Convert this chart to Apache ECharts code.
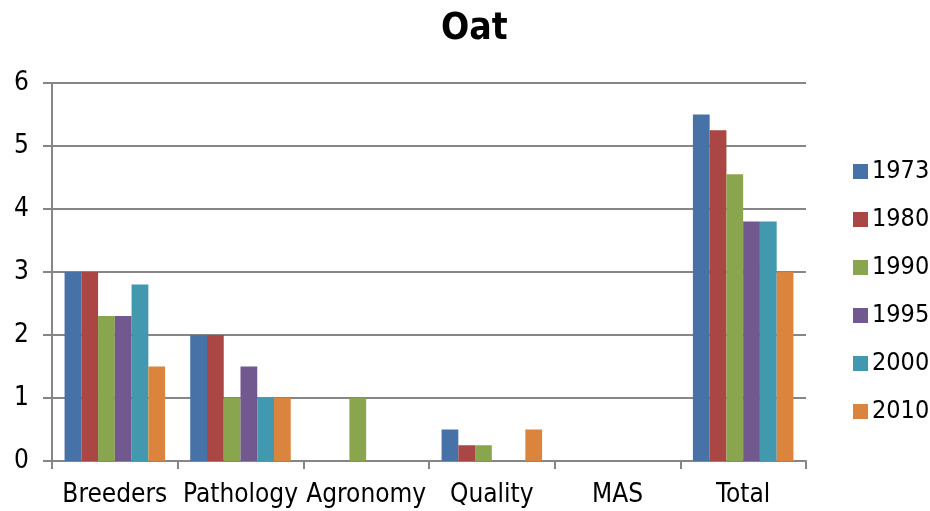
<!DOCTYPE html>
<html>
<head>
<meta charset="utf-8">
<script src="https://cdn.jsdelivr.net/npm/echarts@6/dist/echarts.min.js"></script>
<style>
  html, body { margin: 0; padding: 0; background: #fff; }
  #chart { width: 930px; height: 511px; }
</style>
</head>
<body>
<div id="chart"></div>
<script>
var categories = ['Breeders', 'Pathology', 'Agronomy', 'Quality', 'MAS', 'Total'];
var years = ['1973', '1980', '1990', '1995', '2000', '2010'];
var v1973 = [3, 2, 0, 0.5, 0, 5.5];
var v1980 = [3, 2, 0, 0.25, 0, 5.25];
var v1990 = [2.3, 1, 1, 0.25, 0, 4.55];
var v1995 = [2.3, 1.5, 0, 0, 0, 3.8];
var v2000 = [2.8, 1, 0, 0, 0, 3.8];
var v2010 = [1.5, 1, 0, 0.5, 0, 3];
var values = [v1973, v1980, v1990, v1995, v2000, v2010];
var colors = ['#4672A7', '#AA4643', '#89A54E', '#71588F', '#4198AF', '#DB843D'];

var font = '"DejaVu Sans Condensed", Tahoma, "DejaVu Sans", sans-serif';
var dom = document.getElementById('chart');
var myChart = echarts.init(dom);

var series = [];
for (var i = 0; i < years.length; i++) {
    series.push({
        name: years[i],
        type: 'bar',
        barGap: '0%',
        barCategoryGap: '20%',
        data: values[i]
    });
}

var option = {
    animation: false,
    color: colors,
    title: {
        text: 'Oat',
        left: 436,
        top: 6,
        textStyle: { fontFamily: font, fontSize: 37, fontWeight: 'bold', color: '#000' }
    },
    legend: {
        orient: 'vertical',
        left: 848,
        top: 153,
        itemWidth: 15,
        itemHeight: 15,
        itemGap: 21,
        icon: 'rect',
        textStyle: { fontFamily: font, fontSize: 25, lineHeight: 27, color: '#000', padding: [0, 0, 0, -1] },
        data: years
    },
    grid: { left: 52, right: 124, top: 83, bottom: 50 },
    xAxis: {
        type: 'category',
        data: categories,
        axisLine: { lineStyle: { color: '#868686', width: 2 } },
        axisTick: { show: true, interval: 0, length: 8, lineStyle: { color: '#868686', width: 2 } },
        axisLabel: { interval: 0, fontFamily: font, fontSize: 26, color: '#000', margin: 21 }
    },
    yAxis: {
        type: 'value',
        min: 0,
        max: 6,
        interval: 1,
        axisLine: { show: true, lineStyle: { color: '#868686', width: 2 } },
        axisTick: { show: true, length: 9, lineStyle: { color: '#868686', width: 2 } },
        axisLabel: { fontFamily: font, fontSize: 26, color: '#000', margin: 23 },
        splitLine: { lineStyle: { color: '#868686', width: 2 } }
    },
    series: series
};
myChart.setOption(option);
</script>
</body>
</html>
